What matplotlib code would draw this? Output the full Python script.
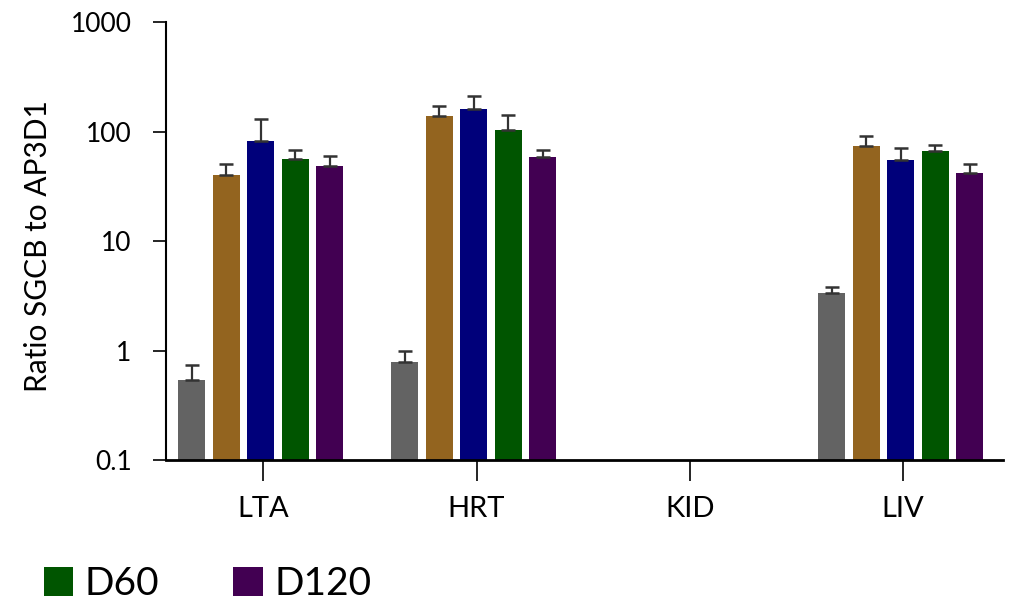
import matplotlib
matplotlib.use("Agg")
import matplotlib.pyplot as plt
from matplotlib.patches import Patch
from matplotlib.ticker import FixedLocator, FixedFormatter, NullLocator
import numpy as np

plt.rcParams['font.family'] = ['Lato', 'DejaVu Sans']

# Tissues on the x axis
tissues = ["LTA", "HRT", "KID", "LIV"]

# Mean ratios per group (KID has no measurements)
grp_gray = [0.54, 0.79, np.nan, 3.37]
grp_brown = [40.0, 140.0, np.nan, 74.6]
grp_blue = [82.0, 163.0, np.nan, 55.6]
d60 = [56.0, 104.0, np.nan, 67.0]
d120 = [48.4, 59.0, np.nan, 42.2]

# Upper error (mean + SD) per group
top_gray = [0.74, 0.99, np.nan, 3.85]
top_brown = [51.0, 171.0, np.nan, 90.8]
top_blue = [132.0, 214.0, np.nan, 71.0]
top_d60 = [68.0, 141.0, np.nan, 75.0]
top_d120 = [59.7, 67.6, np.nan, 51.0]

ytick_values = [0.1, 1, 10, 100, 1000]
ytick_labels = ["0.1", "1", "10", "100", "1000"]

series = [
    (grp_gray, top_gray, "#636363", None),
    (grp_brown, top_brown, "#93641f", None),
    (grp_blue, top_blue, "#00007a", None),
    (d60, top_d60, "#005500", "D60"),
    (d120, top_d120, "#420052", "D120"),
]

W, H = 1010, 603
fig = plt.figure(figsize=(W / 100, H / 100), dpi=100)
ax = fig.add_axes([165.5 / W, 1 - 460 / H, (1003 - 165.5) / W, (460 - 22.4) / H])

x = np.arange(len(tissues))
step = 0.1617
width = 0.1266
shift = -0.012

for i, (vals, tops, color, label) in enumerate(series):
    vals = np.array(vals, dtype=float)
    tops = np.array(tops, dtype=float)
    pos = x + (i - 2) * step + shift
    ax.bar(pos, vals, width=width, color=color, bottom=1e-6, zorder=2)
    err = np.vstack([np.zeros_like(vals), tops - vals])
    ax.errorbar(pos, vals, yerr=err, fmt='none', ecolor='#333333',
                elinewidth=1.6, capsize=4.8, capthick=1.8, zorder=3)

ax.set_yscale('log')
ax.set_ylim(0.1, 1000)
ax.set_xlim(-0.458, 3.468)

ax.yaxis.set_major_locator(FixedLocator(ytick_values))
ax.yaxis.set_major_formatter(FixedFormatter(ytick_labels))
ax.yaxis.set_minor_locator(NullLocator())
ax.set_xticks(x)
ax.set_xticklabels(tissues)

for s in ['top', 'right']:
    ax.spines[s].set_visible(False)
ax.spines['left'].set_linewidth(1.5)
ax.spines['bottom'].set_linewidth(2.0)

ax.tick_params(axis='y', length=9.4, width=1.2, pad=15, labelsize=19, color='black')
ax.tick_params(axis='x', length=15, width=1.2, pad=11, labelsize=21, color='black')

ax.set_ylabel("Ratio SGCB to AP3D1", fontsize=21.5)
ax.yaxis.set_label_coords(-0.136, 0.49)

handles = [Patch(facecolor=c, edgecolor='none', label=l)
           for (_, _, c, l) in series if l is not None]
fig.legend(handles=handles, loc='lower left', bbox_to_anchor=(44 / W, 1 / H),
           ncol=2, frameon=False, fontsize=28, handlelength=0.75, handleheight=0.75,
           handletextpad=0.3, columnspacing=1.9, borderpad=0, borderaxespad=0)

fig.savefig("out.png", dpi=100)
